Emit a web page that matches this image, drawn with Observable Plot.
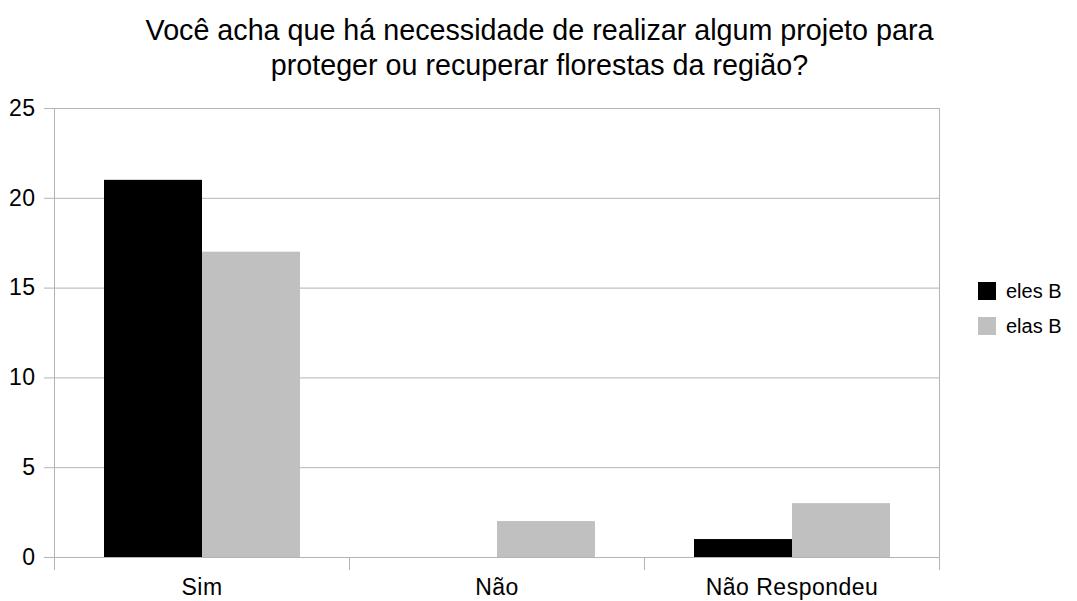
<!DOCTYPE html>
<html>
<head>
<meta charset="utf-8">
<script src="https://cdn.jsdelivr.net/npm/d3@7"></script>
<script src="https://cdn.jsdelivr.net/npm/@observablehq/plot@0.6"></script>
<style>
  html, body { margin: 0; padding: 0; background: #fff; }
  #wrap { position: relative; width: 1077px; height: 601px; overflow: hidden; font-family: "Liberation Sans", Arial, sans-serif; }
  #title { position: absolute; left: 1px; top: 13px; width: 1077px; text-align: center; font-size: 28.7px; line-height: 35px; color: #000; white-space: nowrap; }
  .sw { position: absolute; width: 18px; height: 18px; }
  .lt { position: absolute; font-size: 20px; line-height: 20px; color: #000; white-space: nowrap; }
  #chart { position: absolute; left: 0; top: 0; }
</style>
</head>
<body>
<div id="wrap">
  <div id="chart"></div>
  <div id="title"></div>
  <div id="legend"></div>
</div>
<script>
const titleLines = ["Você acha que há necessidade de realizar algum projeto para", "proteger ou recuperar florestas da região?"];
const categories = ["Sim", "Não", "Não Respondeu"];
const series = ["eles B", "elas B"];
const elesB = [21, 0, 1];
const elasB = [17, 2, 3];
const colors = ["#000000", "#c0c0c0"];
const yTicks = [0, 5, 10, 15, 20, 25];
const gray = "#b3b3b3";

const data = categories.flatMap((c, i) => [
  {category: c, series: series[0], value: elesB[i]},
  {category: c, series: series[1], value: elasB[i]}
]);

const chart = Plot.plot({
  width: 1077,
  height: 601,
  marginLeft: 53,
  marginRight: 137,
  marginTop: 108,
  marginBottom: 44,
  style: {fontFamily: "'Liberation Sans', Arial, sans-serif", fontSize: "23px", letterSpacing: "0.5px", background: "transparent", color: "black"},
  fx: {domain: categories, padding: 0, label: null},
  x: {domain: series, paddingInner: 0, paddingOuter: 0.5, axis: null},
  y: {domain: [0, 25], label: null},
  color: {domain: series, range: colors},
  marks: [
    Plot.gridY({ticks: yTicks, stroke: gray, strokeOpacity: 1}),
    Plot.barY(data, {fx: "category", x: "series", y: "value", fill: "series"}),
    Plot.frame({anchor: "left", facetAnchor: "left", stroke: gray, strokeOpacity: 1, insetBottom: -12}),
    Plot.frame({anchor: "right", facetAnchor: "right", stroke: gray, strokeOpacity: 1, insetBottom: -12}),
    Plot.frame({anchor: "left", stroke: gray, strokeOpacity: 1, insetTop: 449, insetBottom: -12}),
    Plot.axisY({ticks: yTicks, tickSize: 10, stroke: gray, strokeOpacity: 1, tickFormat: () => "", label: null}),
    Plot.axisY({ticks: yTicks, tickSize: 0, tickPadding: 19, fontSize: 23, fill: "black", label: null}),
    Plot.axisFx({anchor: "bottom", tickSize: 0, tickPadding: 21, fontSize: 23, fill: "black", label: null})
  ]
});
document.getElementById("chart").appendChild(chart);

document.getElementById("title").innerHTML = titleLines.map(t => `<div>${t}</div>`).join("");

const legend = document.getElementById("legend");
series.forEach((s, i) => {
  const sw = document.createElement("div");
  sw.className = "sw";
  sw.style.left = "978px";
  sw.style.top = (282 + i * 35) + "px";
  sw.style.background = colors[i];
  legend.appendChild(sw);
  const t = document.createElement("div");
  t.className = "lt";
  t.style.left = "1006px";
  t.style.top = (281 + i * 35) + "px";
  t.textContent = s;
  legend.appendChild(t);
});
</script>
</body>
</html>
